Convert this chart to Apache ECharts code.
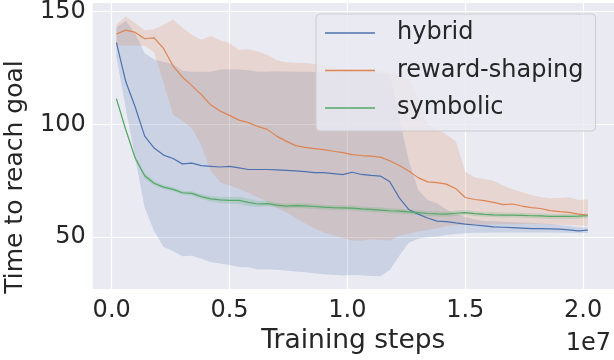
<!DOCTYPE html>
<html>
<head>
<meta charset="utf-8">
<script src="https://cdn.jsdelivr.net/npm/echarts@6/dist/echarts.min.js"></script>
<style>
html,body{margin:0;padding:0;background:#ffffff;}
#chart{width:614px;height:360px;}
</style>
</head>
<body>
<div id="chart"></div>
<script>
// Training steps (x)
const steps = [200000, 600000, 1000000, 1400000, 1800000, 2200000, 2600000, 3000000, 3400000, 3800000,
  4200000, 4600000, 5000000, 5400000, 5800000, 6200000, 6600000, 7000000, 7400000, 7800000,
  8200000, 8600000, 9000000, 9400000, 9800000, 10200000, 10600000, 11000000, 11400000, 11800000,
  12200000, 12600000, 13000000, 13400000, 13800000, 14200000, 14600000, 15000000, 15400000, 15800000,
  16200000, 16600000, 17000000, 17400000, 17800000, 18200000, 18600000, 19000000, 19400000, 19800000,
  20200000];

const seriesNames = ['hybrid', 'reward-shaping', 'symbolic'];

const hybridMean = [136.3,118.9,107.6,94.8,89.5,86.4,84.9,82.5,82.8,81.7,81.4,81.1,81.4,80.7,80.0,80.0,80.0,79.8,79.6,79.4,79.1,78.6,78.6,78.2,77.7,78.8,77.8,77.4,77.1,74.6,67.4,62.3,60.2,58.5,57.1,56.9,56.3,55.8,55.4,55.0,54.6,54.4,54.2,54.0,53.8,53.8,53.7,53.6,53.2,52.8,53.1];
const hybridUpper = [142.9,146.0,140.1,131.6,128.8,127.7,126.7,123.8,123.4,123.4,123.4,124.3,124.5,124.3,124.0,123.4,123.4,123.6,123.5,123.3,123.4,123.2,123.0,123.1,123.2,123.4,123.3,123.2,123.0,122.0,103.0,84.0,71.0,66.5,65.0,62.3,60.3,58.9,57.8,57.2,57.0,56.8,56.6,56.5,56.4,56.1,55.8,55.4,55.0,54.5,54.3];
const hybridLower = [130.0,107.0,84.9,63.0,52.7,45.6,43.9,41.5,41.8,40.4,39.0,38.3,37.6,36.8,36.6,35.7,35.7,35.5,35.2,34.8,34.4,34.0,33.6,33.3,33.0,33.2,33.1,32.8,32.7,35.5,41.8,47.5,49.3,50.0,50.3,51.0,51.4,51.7,51.9,52.0,52.1,52.1,52.1,52.1,52.1,52.1,52.1,52.0,52.0,51.8,51.8];

const rewardMean = [140.1,141.8,140.8,138.0,138.4,133.7,126.0,121.0,117.2,113.2,108.7,105.9,104.0,101.9,100.8,99.1,97.8,94.8,92.6,90.6,89.8,89.3,88.8,88.1,87.5,86.6,86.2,85.9,85.5,83.9,81.8,79.3,76.4,74.5,74.2,73.5,71.5,67.6,66.7,66.2,65.4,64.4,64.7,63.8,63.1,62.7,61.8,61.3,61.0,60.2,59.8];
const rewardUpper = [144.3,147.9,145.0,141.8,142.2,144.1,146.5,142.9,139.8,137.6,139.2,137.3,136.1,133.0,133.3,132.3,130.9,128.5,127.6,127.4,127.2,126.8,126.3,125.2,124.4,124.3,124.3,124.3,124.1,123.0,122.0,120.0,112.0,100.0,97.9,95.5,92.5,79.0,76.5,75.8,75.0,72.9,71.2,70.0,68.7,67.8,67.3,67.4,67.7,66.5,66.8];
const rewardLower = [135.0,135.0,135.0,134.8,132.0,118.6,104.4,101.6,98.4,90.6,79.3,74.3,72.9,71.5,69.7,67.7,65.8,63.0,61.0,58.6,56.2,54.0,52.1,50.8,49.6,48.5,48.4,49.1,48.9,48.5,50.6,51.5,52.5,53.2,54.0,55.0,55.3,55.5,55.5,55.6,55.6,55.7,55.7,55.8,55.8,55.8,55.6,55.5,55.4,55.2,55.0];

const symbolicMean = [111.4,97.5,85.0,77.2,73.9,72.2,71.2,69.7,69.4,68.0,67.0,66.5,66.3,66.3,65.4,64.7,64.9,64.2,63.8,64.0,63.9,63.6,63.3,63.1,63.0,62.9,62.5,62.3,62.0,61.7,61.5,61.2,60.9,60.5,60.3,60.2,60.6,60.9,60.4,60.1,59.9,59.8,59.8,59.7,59.5,59.4,59.2,59.2,59.2,59.3,59.5];
const symbolicUpper = [111.9,98.3,86.0,78.4,74.9,73.1,72.1,70.6,70.4,69.0,68.2,67.9,67.8,67.9,67.0,66.0,66.1,65.3,64.9,65.1,65.0,64.7,64.4,64.2,64.1,64.0,63.6,63.4,63.1,62.8,62.6,62.3,62.0,61.6,61.4,61.3,61.8,62.0,61.5,61.2,61.0,60.9,60.9,60.8,60.6,60.5,60.3,60.3,60.3,60.4,60.5];
const symbolicLower = [110.9,96.7,84.0,76.0,72.9,71.3,70.3,68.8,68.4,67.0,65.8,65.1,64.8,64.7,63.8,63.4,63.7,63.1,62.7,62.9,62.8,62.5,62.2,62.0,61.9,61.8,61.4,61.2,60.9,60.6,60.4,60.1,59.8,59.4,59.2,59.1,59.4,59.8,59.3,59.0,58.8,58.7,58.7,58.6,58.4,58.3,58.1,58.1,58.1,58.2,58.5];

const xTicks = [0, 5000000, 10000000, 15000000, 20000000];
const yTicks = [50, 100, 150];

const colors = ['#4C72B0', '#DD8452', '#55A868'];
const bandColors = ['rgba(76,114,176,0.2)', 'rgba(221,132,82,0.2)', 'rgba(85,168,104,0.2)'];
const FONT = 'DejaVu Sans';
const TXT = '#262626';

function bandSeries(name, upper, lower, fill) {
  return {
    type: 'custom',
    name: name + ' band',
    z: 1,
    silent: true,
    animation: false,
    data: [[steps[0], lower[0]]],
    encode: {x: 0, y: 1},
    renderItem: function (params, api) {
      const pts = [];
      for (let i = 0; i < steps.length; i++) pts.push(api.coord([steps[i], upper[i]]));
      for (let i = steps.length - 1; i >= 0; i--) pts.push(api.coord([steps[i], lower[i]]));
      return {type: 'polygon', shape: {points: pts}, style: {fill: fill, stroke: null}};
    }
  };
}
function lineSeries(name, mean, color) {
  return {
    type: 'line',
    name: name,
    z: 3,
    showSymbol: false,
    symbol: 'none',
    animation: false,
    color: color,
    lineStyle: {width: 1.2, color: color},
    data: steps.map((s, i) => [s, mean[i]])
  };
}

const chart = echarts.init(document.getElementById('chart'), null, {renderer: 'canvas'});
chart.setOption({
  backgroundColor: '#ffffff',
  animation: false,
  grid: {left: 92.7, right: 0, top: 1, bottom: 60, show: true, backgroundColor: '#EAEAF2', borderWidth: 0},
  xAxis: {
    type: 'value',
    min: -806000,
    max: 21310000,
    name: 'Training steps',
    nameLocation: 'middle',
    nameGap: 35,
    nameTextStyle: {fontFamily: FONT, fontSize: 26.5, color: TXT},
    axisLine: {show: false},
    axisTick: {show: false, customValues: xTicks},
    axisLabel: {customValues: xTicks, fontFamily: FONT, fontSize: 24, color: TXT, margin: 10,
      formatter: v => (v / 1e7).toFixed(1)},
    splitLine: {show: true, lineStyle: {color: '#ffffff', width: 1.2}}
  },
  yAxis: {
    type: 'value',
    min: 26.96,
    max: 153.82,
    axisLine: {show: false},
    axisTick: {show: false, customValues: yTicks},
    axisLabel: {customValues: yTicks, fontFamily: FONT, fontSize: 24, color: TXT, margin: 7},
    splitLine: {show: true, lineStyle: {color: '#ffffff', width: 1.2}}
  },
  legend: {
    data: seriesNames,
    icon: 'rect',
    orient: 'vertical',
    left: 316,
    top: 14,
    itemWidth: 50,
    itemHeight: 1.5,
    itemGap: 13.5,
    padding: [7, 12, 11, 9],
    backgroundColor: 'rgba(234,234,242,0.8)',
    borderColor: '#cccccc',
    borderWidth: 1,
    borderRadius: 4,
    textStyle: {fontFamily: FONT, fontSize: 24, color: TXT, lineHeight: 24, padding: [0, 0, 0, 17]}
  },
  graphic: [
    {type: 'text', x: 15, y: 177, rotation: Math.PI / 2, z: 10,
      style: {text: 'Time to reach goal', font: '25px "DejaVu Sans"', fill: TXT, align: 'center', verticalAlign: 'middle'}},
    {type: 'text', x: 611, y: 343.5, z: 10,
      style: {text: '1e7', font: '24px "DejaVu Sans"', fill: TXT, align: 'right', verticalAlign: 'middle'}}
  ],
  series: [
    bandSeries('hybrid', hybridUpper, hybridLower, bandColors[0]),
    bandSeries('reward-shaping', rewardUpper, rewardLower, bandColors[1]),
    bandSeries('symbolic', symbolicUpper, symbolicLower, bandColors[2]),
    lineSeries('hybrid', hybridMean, colors[0]),
    lineSeries('reward-shaping', rewardMean, colors[1]),
    lineSeries('symbolic', symbolicMean, colors[2])
  ]
});
</script>
</body>
</html>
